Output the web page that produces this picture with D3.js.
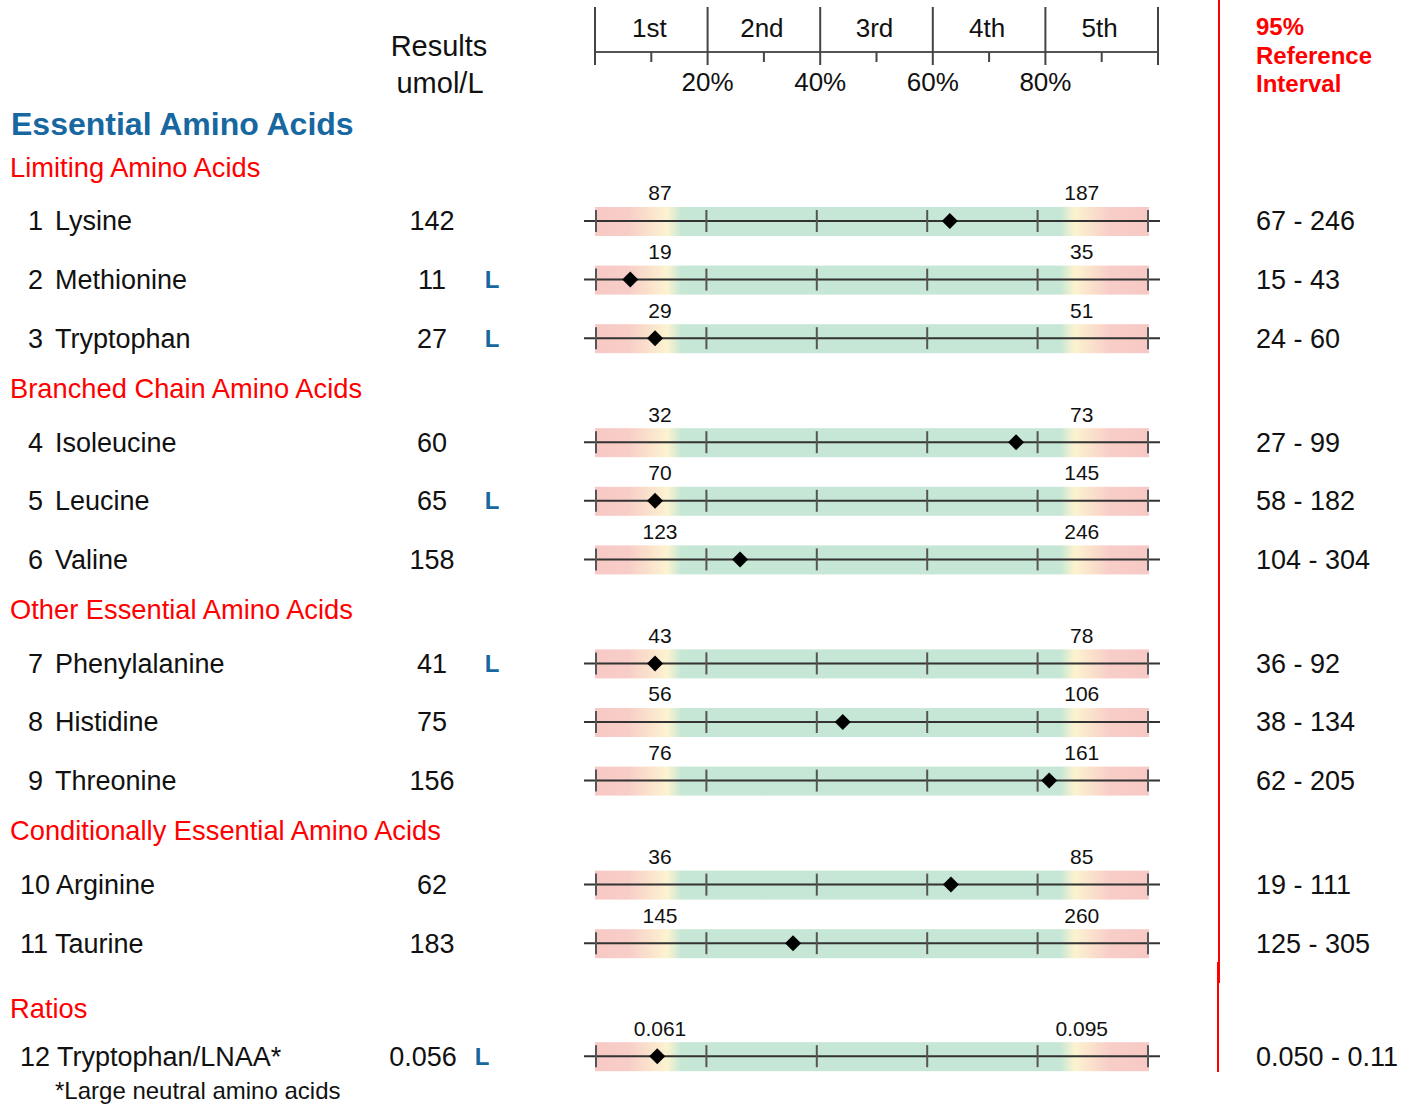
<!DOCTYPE html>
<html>
<head>
<meta charset="utf-8">
<script src="https://cdn.jsdelivr.net/npm/d3@7"></script>
<style>
  body { margin: 0; background: #fff; }
  text { font-family: 'Liberation Sans', Arial, sans-serif; }
</style>
</head>
<body>
<svg id="chart"></svg>
<script>
const sections = ['Limiting Amino Acids', 'Branched Chain Amino Acids', 'Other Essential Amino Acids',
  'Conditionally Essential Amino Acids', 'Ratios'];
const sectionOf = [0, 0, 0, 1, 1, 1, 2, 2, 2, 3, 3, 4];
const analytes = ['Lysine', 'Methionine', 'Tryptophan', 'Isoleucine', 'Leucine', 'Valine',
  'Phenylalanine', 'Histidine', 'Threonine', 'Arginine', 'Taurine', 'Tryptophan/LNAA*'];
const results = ['142', '11', '27', '60', '65', '158', '41', '75', '156', '62', '183', '0.056'];
const flags = ['', 'L', 'L', '', 'L', '', 'L', '', '', '', '', 'L'];
const lowMarks = ['87', '19', '29', '32', '70', '123', '43', '56', '76', '36', '145', '0.061'];
const highMarks = ['187', '35', '51', '73', '145', '246', '78', '106', '161', '85', '260', '0.095'];
const refIntervals = ['67 - 246', '15 - 43', '24 - 60', '27 - 99', '58 - 182', '104 - 304',
  '36 - 92', '38 - 134', '62 - 205', '19 - 111', '125 - 305', '0.050 - 0.11'];
// marker position as percentile of the scale (0-100)
const percentiles = [64.1, 6.2, 10.7, 76.1, 10.7, 26.1, 10.7, 44.7, 82.1, 64.3, 35.7, 11.1];
const quintiles = ['1st', '2nd', '3rd', '4th', '5th'];
const pctTicks = [20, 40, 60, 80];

const W = 1414, H = 1105;
const svg = d3.select('#chart').attr('width', W).attr('height', H);

// vertical layout: gaps between rows / headers
const rowGap = 58.6, headGap = 54, secGap = 50;
const rowY = [], headY = [];
let cy = 167;
analytes.forEach((a, i) => {
  const s = sectionOf[i];
  if (i === 0 || sectionOf[i - 1] !== s) {
    if (i > 0) cy += (s === 4 ? 65 : secGap);
    headY[s] = cy;
    cy += (s === 4 ? 48 : headGap);
  } else {
    cy += rowGap;
  }
  rowY.push(cy);
});

const x = d3.scaleLinear().domain([0, 100]).range([596, 1148]);
const xh = d3.scaleLinear().domain([0, 100]).range([595, 1158]);

// header axis
const head = svg.append('g');
head.append('line')
  .attr('x1', xh(0)).attr('x2', xh(100)).attr('y1', 52).attr('y2', 52)
  .attr('stroke', '#555').attr('stroke-width', 2);
head.selectAll('.major').data(d3.range(0, 101, 20)).enter().append('line')
  .attr('x1', d => xh(d)).attr('x2', d => xh(d)).attr('y1', 7).attr('y2', 65)
  .attr('stroke', '#444').attr('stroke-width', 2);
head.selectAll('.minor').data(d3.range(10, 100, 20)).enter().append('line')
  .attr('x1', d => xh(d)).attr('x2', d => xh(d)).attr('y1', 52).attr('y2', 62)
  .attr('stroke', '#444').attr('stroke-width', 2);
head.selectAll('.q').data(quintiles).enter().append('text')
  .attr('x', (d, i) => xh(i * 20 + 10) - 2).attr('y', 28).attr('dy', '0.35em')
  .attr('text-anchor', 'middle').style('font-size', '26px').style('fill', '#111')
  .text(d => d);
head.selectAll('.p').data(pctTicks).enter().append('text')
  .attr('x', d => xh(d)).attr('y', 82).attr('dy', '0.35em')
  .attr('text-anchor', 'middle').style('font-size', '26px').style('fill', '#111')
  .text(d => d + '%');

svg.append('text').attr('x', 439).attr('y', 46).attr('dy', '0.35em')
  .attr('text-anchor', 'middle').style('font-size', '29px').style('fill', '#111').text('Results');
svg.append('text').attr('x', 440).attr('y', 83).attr('dy', '0.35em')
  .attr('text-anchor', 'middle').style('font-size', '29px').style('fill', '#111').text('umol/L');

['95%', 'Reference', 'Interval'].forEach((t, i) => {
  svg.append('text').attr('x', 1256).attr('y', 27 + i * 28.5).attr('dy', '0.35em')
    .style('font-size', '24px').style('font-weight', 'bold').style('fill', '#ff0000').text(t);
});

// red divider (slightly broken)
svg.append('line').attr('x1', 1219).attr('x2', 1219).attr('y1', 0).attr('y2', 983)
  .attr('stroke', '#ff0000').attr('stroke-width', 2);
svg.append('line').attr('x1', 1218).attr('x2', 1218).attr('y1', 962).attr('y2', 1072)
  .attr('stroke', '#ff0000').attr('stroke-width', 2);

svg.append('text').attr('x', 11).attr('y', 124).attr('dy', '0.35em')
  .style('font-size', '32px').style('font-weight', 'bold').style('fill', '#1767a0')
  .text('Essential Amino Acids');

svg.selectAll('.sec').data(sections).enter().append('text')
  .attr('x', 10).attr('y', (d, i) => headY[i]).attr('dy', '0.35em')
  .style('font-size', '27.3px').style('fill', '#ff0000').text(d => d);

// gradient for the bands
const defs = svg.append('defs');
const grad = defs.append('linearGradient').attr('id', 'band')
  .attr('x1', '0%').attr('x2', '100%').attr('y1', '0%').attr('y2', '0%');
[[0, '#f7c9c5'], [6, '#f8cdc8'], [13, '#fcf3d0'], [15.6, '#c6e7d5'], [84, '#c6e7d5'],
 [86.6, '#fcf3d0'], [93, '#f8cdc8'], [100, '#f7c9c5']].forEach(s => {
  grad.append('stop').attr('offset', s[0] + '%').attr('stop-color', s[1]);
});

const rows = svg.selectAll('.row').data(analytes).enter().append('g')
  .attr('transform', (d, i) => `translate(0, ${rowY[i]})`);

rows.append('text')
  .attr('x', (d, i) => (i + 1) < 10 ? 28 : 20).attr('dy', '0.35em')
  .style('font-size', '27px').style('fill', '#111')
  .text((d, i) => (i + 1) < 10 ? (i + 1) : (i + 1) + ' ' + d);
rows.filter((d, i) => (i + 1) < 10).append('text')
  .attr('x', 55).attr('dy', '0.35em')
  .style('font-size', '27px').style('fill', '#111').text(d => d);

rows.append('text')
  .attr('x', (d, i) => sectionOf[i] === 4 ? 423 : 432).attr('dy', '0.35em')
  .attr('text-anchor', 'middle').style('font-size', '27px').style('fill', '#111')
  .text((d, i) => results[i]);
rows.append('text')
  .attr('x', (d, i) => sectionOf[i] === 4 ? 482 : 492).attr('dy', '0.35em')
  .attr('text-anchor', 'middle').style('font-size', '24px').style('font-weight', 'bold')
  .style('fill', '#1767a0').text((d, i) => flags[i]);

rows.append('rect')
  .attr('x', x(0) - 1).attr('y', -14).attr('width', x(100) - x(0) + 2).attr('height', 29)
  .attr('fill', 'url(#band)');
rows.append('line')
  .attr('x1', 584).attr('x2', 1160).attr('y1', 0).attr('y2', 0)
  .attr('stroke', '#333').attr('stroke-width', 2);
rows.each(function() {
  d3.select(this).selectAll('.tk').data(d3.range(0, 101, 20)).enter().append('line')
    .attr('x1', d => x(d)).attr('x2', d => x(d)).attr('y1', -11).attr('y2', 11)
    .attr('stroke', '#555').attr('stroke-width', 2);
});
rows.append('text')
  .attr('x', x(11.6)).attr('y', -28).attr('dy', '0.35em').attr('text-anchor', 'middle')
  .style('font-size', '21px').style('fill', '#111').text((d, i) => lowMarks[i]);
rows.append('text')
  .attr('x', x(88)).attr('y', -28).attr('dy', '0.35em').attr('text-anchor', 'middle')
  .style('font-size', '21px').style('fill', '#111').text((d, i) => highMarks[i]);
rows.append('path')
  .attr('d', d3.symbol(d3.symbolSquare, 128)())
  .attr('transform', (d, i) => `translate(${x(percentiles[i])}, 0) rotate(45)`)
  .attr('fill', '#000');

rows.append('text')
  .attr('x', 1256).attr('dy', '0.35em')
  .style('font-size', '27px').style('fill', '#111').text((d, i) => refIntervals[i]);

svg.append('text').attr('x', 55).attr('y', 1091).attr('dy', '0.35em')
  .style('font-size', '24px').style('fill', '#111').text('*Large neutral amino acids');
</script>
</body>
</html>
